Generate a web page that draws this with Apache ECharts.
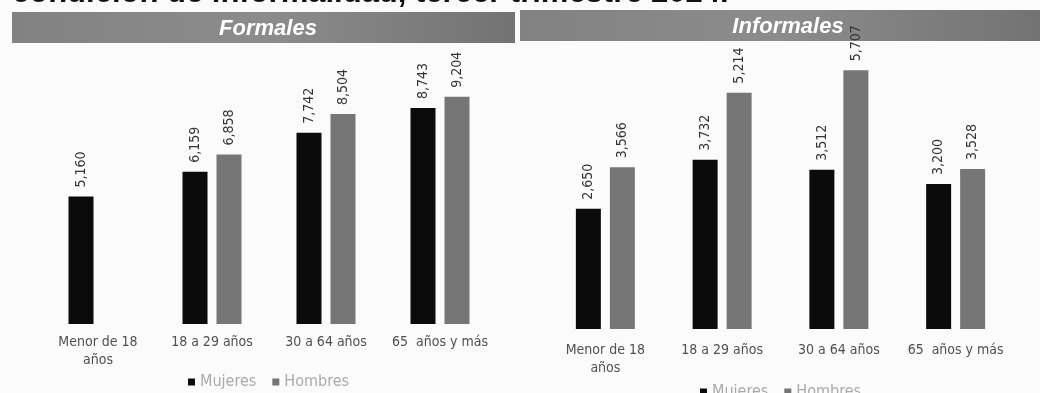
<!DOCTYPE html>
<html>
<head>
<meta charset="utf-8">
<script src="https://cdn.jsdelivr.net/npm/echarts@6/dist/echarts.min.js"></script>
<style>
html,body{margin:0;padding:0;background:#fbfbfb;}
#c{width:1040px;height:393px;}
</style>
</head>
<body>
<div id="c"></div>
<script>
// ---- data ----
var categories = ['Menor de 18\naños', '18 a 29 años', '30 a 64 años', '65  años y más'];
var formalesMujeres = [5160, 6159, 7742, 8743];
var formalesHombres = [null, 6858, 8504, 9204];
var informalesMujeres = [2650, 3732, 3512, 3200];
var informalesHombres = [3566, 5214, 5707, 3528];
var seriesNames = ['Mujeres', 'Hombres'];
var panelTitles = ['Formales', 'Informales'];
var titleText = 'condición de informalidad, tercer trimestre 2024.';

var chart = echarts.init(document.getElementById('c'), null, {renderer: 'canvas'});
var fmt = function (p) { return p.value == null ? '' : Number(p.value).toLocaleString('en-US'); };
var FONT = '"DejaVu Sans Condensed", "Liberation Sans Narrow", "Liberation Sans", Arial, sans-serif';
var labelCfg = {
  show: true, position: 'top', rotate: 90, align: 'left', verticalAlign: 'middle',
  distance: 9, formatter: fmt, color: '#333', fontSize: 14, fontFamily: FONT
};
var colors = {Mujeres: '#0b0b0b', Hombres: '#767676'};

function bar(name, data, idx) {
  return {
    name: name, type: 'bar', data: data, xAxisIndex: idx, yAxisIndex: idx,
    barWidth: 25, barGap: '36%',
    itemStyle: {color: colors[name]},
    label: labelCfg
  };
}
function xAx(idx) {
  return {
    type: 'category', gridIndex: idx, data: categories,
    axisLine: {show: false}, axisTick: {show: false},
    axisLabel: {color: '#505050', fontSize: 14, fontFamily: FONT, interval: 0, margin: idx === 0 ? 9 : 12, lineHeight: 18}
  };
}
function band(x, y, w, h, tx, txt) {
  return {
    type: 'group', z: 100,
    children: [
      {type: 'rect', shape: {x: x, y: y, width: w, height: h},
       style: {fill: new echarts.graphic.LinearGradient(0, 0, 1, 0, [
         {offset: 0, color: '#828282'}, {offset: 0.5, color: '#8c8c8c'}, {offset: 1, color: '#737373'}])}},
      {type: 'text', style: {x: tx, y: y + h / 2 + 1, text: txt, fill: '#ffffff',
        font: 'italic bold 22px "Liberation Sans", Arial, sans-serif', align: 'center', verticalAlign: 'middle'}}
    ]
  };
}
var legendText = {color: '#aaaaaa', fontSize: 16, fontFamily: FONT};

chart.setOption({
  backgroundColor: '#fbfbfb',
  animation: false,
  grid: [
    {left: 41, right: 543, top: 77, bottom: 69},
    {left: 547, right: 26, top: 57, bottom: 64}
  ],
  xAxis: [xAx(0), xAx(1)],
  yAxis: [
    {type: 'value', gridIndex: 0, min: 0, max: 10000, show: false},
    {type: 'value', gridIndex: 1, min: 0, max: 6000, show: false}
  ],
  legend: [
    {data: seriesNames, left: 183, top: 369, itemWidth: 7, itemHeight: 7, itemGap: 16,
     icon: 'rect', textStyle: legendText},
    {data: seriesNames, left: 695, top: 379, itemWidth: 7, itemHeight: 7, itemGap: 16,
     icon: 'rect', textStyle: legendText}
  ],
  series: [
    bar(seriesNames[0], formalesMujeres, 0),
    bar(seriesNames[1], formalesHombres, 0),
    bar(seriesNames[0], informalesMujeres, 1),
    bar(seriesNames[1], informalesHombres, 1)
  ],
  graphic: [
    {type: 'text', left: 12, top: -22, z: 100,
     style: {text: titleText, fill: '#111', font: 'bold 31px "Liberation Sans", Arial, sans-serif'}},
    band(12, 12, 503, 31, 268, panelTitles[0]),
    band(520, 10, 520, 31, 788, panelTitles[1])
  ]
});
</script>
</body>
</html>
